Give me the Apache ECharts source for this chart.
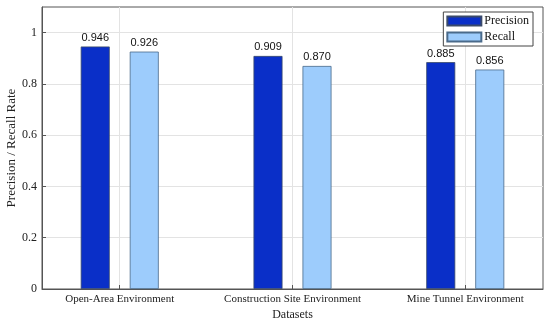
<!DOCTYPE html>
<html><head><meta charset="utf-8">
<script src="https://cdn.jsdelivr.net/npm/echarts@6/dist/echarts.min.js"></script>
<style>html,body{margin:0;padding:0;background:#fff}#c{width:550px;height:326px}</style>
</head><body><div id="c"></div>
<script>
const categories = ['Open-Area Environment', 'Construction Site Environment', 'Mine Tunnel Environment'];
const precision = [0.946, 0.909, 0.885];
const recall = [0.926, 0.870, 0.856];
const yTicks = [0, 0.2, 0.4, 0.6, 0.8, 1];

const chart = echarts.init(document.getElementById('c'));
const serif = 'Liberation Serif';
const pos = categories.map((_, i) => i + 1);
chart.setOption({
  animation: false,
  grid: { left: 42, right: 7, top: 7, bottom: 37, outerBoundsMode: 'none', containLabel: false, show: true, borderColor: '#555', borderWidth: 1 },
  xAxis: {
    type: 'value', min: 0.55, max: 3.45,
    axisLine: { show: true, lineStyle: { color: '#555' } },
    axisTick: { show: true, inside: true, length: 4, customValues: pos, lineStyle: { color: '#555' } },
    axisLabel: { customValues: pos, formatter: v => categories[Math.round(v) - 1] || '', fontFamily: serif, fontSize: 11, color: '#222', margin: 5 },
    splitLine: { show: true, lineStyle: { color: '#e3e3e3' } },
    name: 'Datasets', nameLocation: 'middle', nameGap: 20, nameMoveOverlap: false,
    nameTextStyle: { fontFamily: serif, fontSize: 12, color: '#222' }
  },
  yAxis: {
    type: 'value', min: 0, max: 1.1,
    axisLine: { show: true, lineStyle: { color: '#555' } },
    axisTick: { show: true, inside: true, length: 4, customValues: yTicks, lineStyle: { color: '#555' } },
    axisLabel: { customValues: yTicks, formatter: v => String(+v.toFixed(1)), fontFamily: serif, fontSize: 12, color: '#222', margin: 5 },
    splitLine: { show: true, lineStyle: { color: '#e3e3e3' } },
    name: 'Precision / Recall Rate', nameLocation: 'middle', nameGap: 24, nameMoveOverlap: false,
    nameTextStyle: { fontFamily: serif, fontSize: 13, color: '#222' }
  },
  legend: {
    orient: 'vertical', right: 17, top: 12,
    itemWidth: 34, itemHeight: 9, itemGap: 4,
    padding: [3, 4, 3, 3],
    icon: 'rect',
    borderColor: '#444', borderWidth: 1, backgroundColor: '#fff', borderRadius: 0,
    textStyle: { fontFamily: serif, fontSize: 12, color: '#111', padding: [0, 0, 0, -2] },
    data: ['Precision', 'Recall']
  },
  series: [
    { name: 'Precision', type: 'bar', barWidth: 29, barGap: '69%',
      data: precision.map((v, i) => [pos[i], v]),
      itemStyle: { color: '#0a2fc8', borderColor: '#3a4a6a', borderWidth: 0.8 },
      label: { show: true, position: 'top', distance: 3, formatter: p => p.value[1].toFixed(3), fontFamily: 'Liberation Sans', fontSize: 11, color: '#111' } },
    { name: 'Recall', type: 'bar', barWidth: 29, barGap: '69%',
      data: recall.map((v, i) => [pos[i], v]),
      itemStyle: { color: '#9dccfc', borderColor: '#4a6a8a', borderWidth: 0.8 },
      label: { show: true, position: 'top', distance: 3, formatter: p => p.value[1].toFixed(3), fontFamily: 'Liberation Sans', fontSize: 11, color: '#111' } }
  ]
});
</script></body></html>
